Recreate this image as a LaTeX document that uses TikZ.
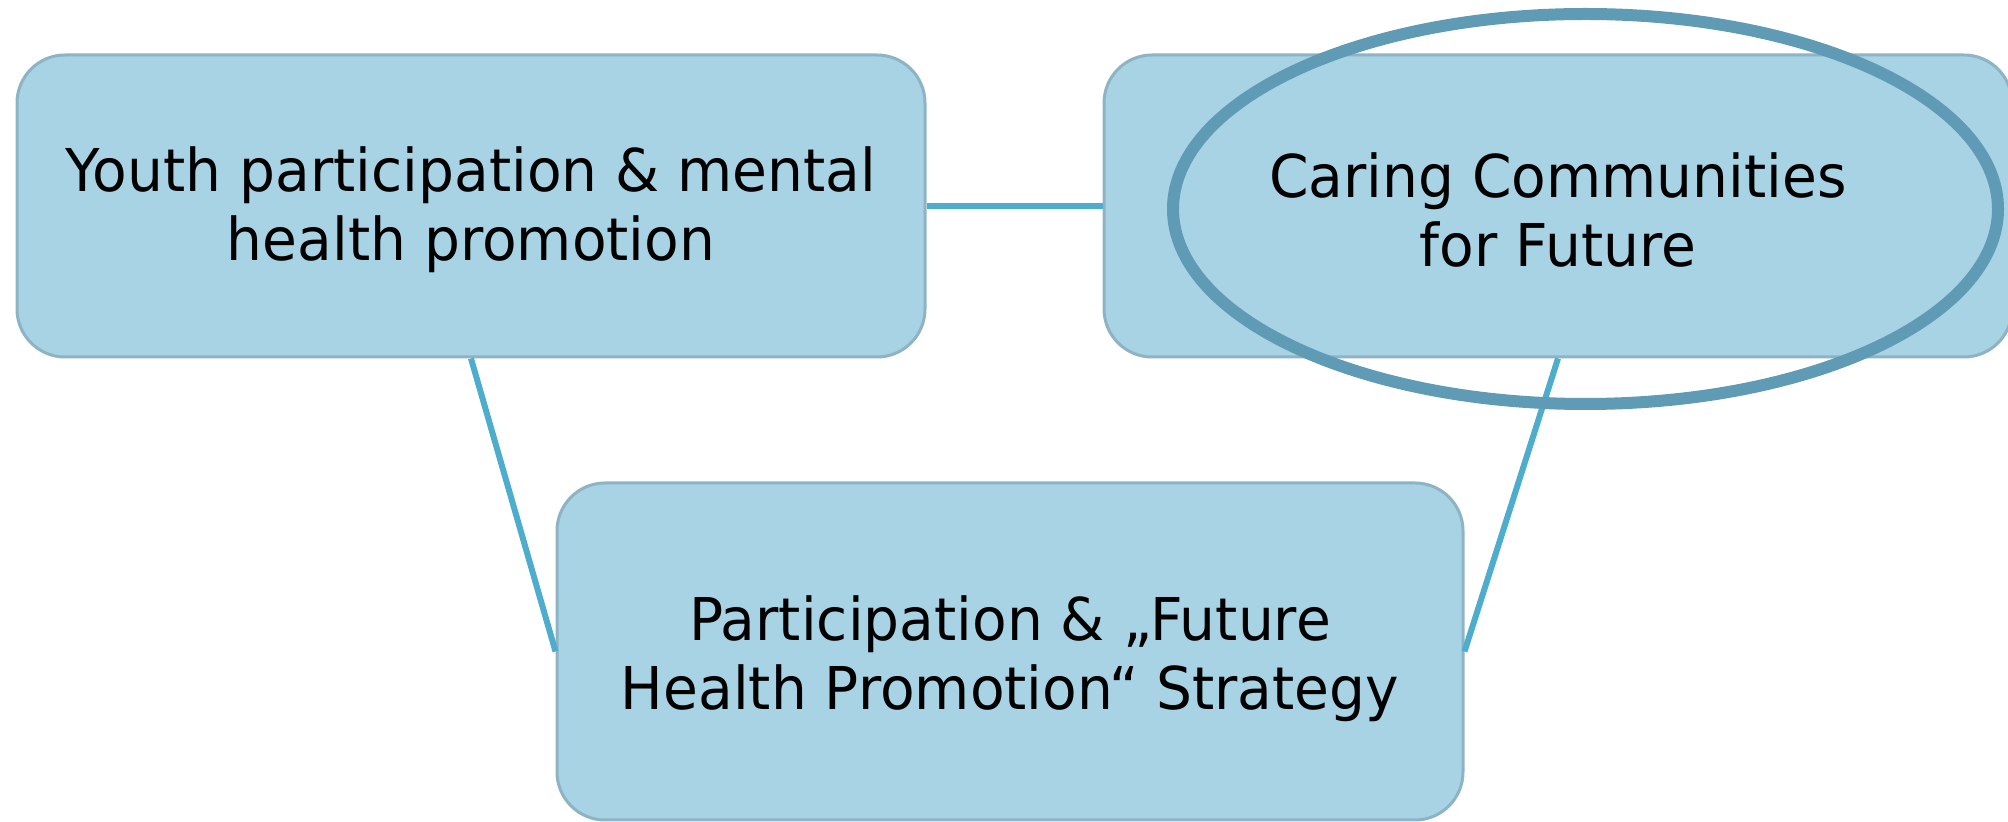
\documentclass[tikz,border=0pt]{standalone}
\usepackage{fontspec}
\setmainfont{DejaVu Sans}[FakeStretch=0.96]
\definecolor{boxfill}{HTML}{A7D3E4}
\definecolor{boxline}{HTML}{8DB3C4}
\definecolor{linkcol}{HTML}{4EADCD}
\definecolor{ringcol}{HTML}{5F9BB5}
\begin{document}
\begin{tikzpicture}[x=0.5pt,y=-0.5pt,
  topic/.style={draw=boxline, line width=1.5pt, fill=boxfill, rounded corners=24pt,
    minimum width=454pt, minimum height=151pt, inner sep=0pt, align=center,
    font=\fontsize{29.5pt}{34.5pt}\selectfont, text=black},
  link/.style={draw=linkcol, line width=3pt},
  ring/.style={draw=ringcol, line width=6pt}]
\useasboundingbox (0,0) rectangle (2008,822);
\node[topic] (A) at (471,206) {\rule{0pt}{26.4pt}Youth participation \& mental\\health promotion};
\node[topic] (B) at (1558,206) {\rule{0pt}{26.4pt}Caring Communities\\for Future};
\node[topic, minimum width=453pt, minimum height=168.5pt] (C) at (1010,651.5) {\rule{0pt}{30pt}Participation \& „Future\\Health Promotion“ Strategy};
\draw[link] (A.east) -- (B.west);
\draw[link] (A.south) -- (C.west);
\draw[link] (B.south) -- (C.east);
\draw[ring] (1585.5,209) ellipse [x radius=412.5, y radius=195];
\end{tikzpicture}
\end{document}
